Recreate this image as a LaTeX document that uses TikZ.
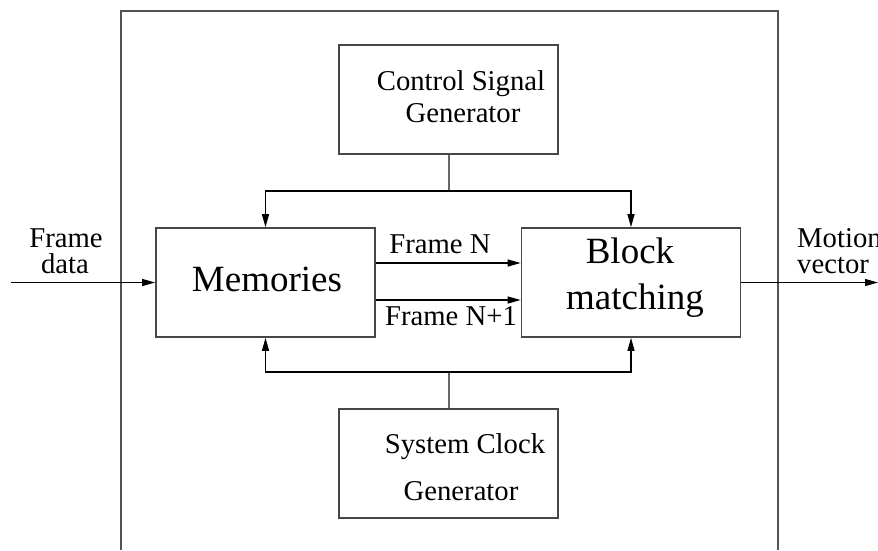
\documentclass[tikz,border=0pt]{standalone}
\usepackage{fontspec}
\setmainfont{Liberation Serif}
\usetikzlibrary{arrows.meta}
\tikzset{
  blk/.style={draw=black!72, line width=1.7pt, minimum width=219pt, minimum height=109pt, inner sep=0pt},
  arr/.style={draw=black, line width=1.2pt, -{Triangle[length=13pt,width=7pt]}},
  stub/.style={draw=black!60, line width=2pt},
  small/.style={font=\fontsize{28.7}{28.7}\selectfont, inner sep=0pt, anchor=base},
  big/.style={font=\fontsize{37}{37}\selectfont, inner sep=0pt, anchor=base},
}
\begin{document}
\begin{tikzpicture}[x=1pt,y=-1pt]
\useasboundingbox (0,0) rectangle (878,550);
% outer frame (open at bottom)
\draw[draw=black!68, line width=1.7pt] (121,550) -- (121,11) -- (778,11) -- (778,550);
% boxes
\node[blk] (ctrl) at (448.5,99.5) {};
\node[blk] (mem) at (265.5,282.5) {};
\node[blk] (bm) at (631,282.5) {};
\node[blk] (clk) at (448.5,463.5) {};
% texts
\node[small] (t1) at (461,90) {Control Signal};
\node[small] (t2) at (463,122) {Generator};
\node[big] (t3) at (267,291) {Memories};
\node[big] (t4) at (630,263) {Block};
\node[big] (t5) at (635,309) {matching};
\node[small] (t6) at (465,453) {System Clock};
\node[small] (t7) at (461,500) {Generator};
\node[small] (t8) at (440,253) {Frame N};
\node[small] (t9) at (451,325) {Frame N+1};
\node[small] (t10) at (66,247) {Frame};
\node[small] (t11) at (65,273) {data};
\node[small, anchor=base west] (t12) at (797,247) {Motion};
\node[small, anchor=base west] (t13) at (797,273) {vector};
% connectors
\coordinate (jt) at (448.5,191);
\coordinate (jb) at (448.5,372);
\draw[stub] (ctrl.south) -- (jt);
\draw[arr] (jt) -| (mem.north);
\draw[arr] (jt) -| (bm.north);
\draw[stub] (clk.north) -- (jb);
\draw[arr] (jb) -| (mem.south);
\draw[arr] (jb) -| (bm.south);
\draw[arr] ([yshift=19.5pt]mem.east) -- ([yshift=19.5pt]bm.west);
\draw[arr] ([yshift=-17.5pt]mem.east) -- ([yshift=-17.5pt]bm.west);
\coordinate (in) at (11,282.5);
\coordinate (out) at (878,282.5);
\draw[arr] (in) -- (mem.west);
\draw[arr] (bm.east) -- (out);
\end{tikzpicture}
\end{document}
